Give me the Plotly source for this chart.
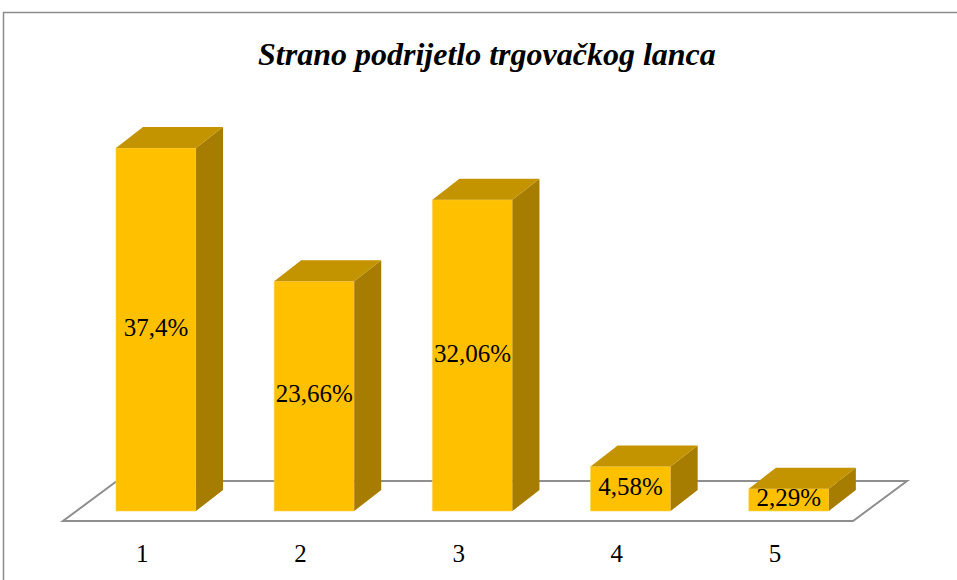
import plotly.graph_objects as go

# ---- data ----
categories = [1, 2, 3, 4, 5]
values = [37.4, 23.66, 32.06, 4.58, 2.29]
value_labels = ["37,4%", "23,66%", "32,06%", "4,58%", "2,29%"]
category_labels = ["1", "2", "3", "4", "5"]
title_text = "Strano podrijetlo trgovačkog lanca"

# ---- geometry / style constants ----
W, H = 957, 580
X_RANGE = [0.0139, 6.063]
Y_RANGE = [-7.109, 52.65]
BAR_W = 0.506
DEPTH_X = 0.1707
DEPTH_Y = 2.164
FRONT = "#FFC000"
TOP = "#C49400"
SIDE = "#A67D00"
FONT = "Liberation Serif, Tinos, 'Times New Roman', Times, serif"

fig = go.Figure()

# front faces
fig.add_trace(go.Bar(
    x=categories, y=values, width=BAR_W,
    marker=dict(color=FRONT, line=dict(width=0.6, color="#FFD24D")),
    hoverinfo="skip", showlegend=False,
))

# side faces and top faces (3D effect derived from the values)
sx, sy, tx, ty = [], [], [], []
for c, v in zip(categories, values):
    r = c + BAR_W / 2
    l = c - BAR_W / 2
    sx += [r, r + DEPTH_X, r + DEPTH_X, r, r, None]
    sy += [0, DEPTH_Y, v + DEPTH_Y, v, 0, None]
    tx += [l, l + DEPTH_X, r + DEPTH_X, r, l, None]
    ty += [v, v + DEPTH_Y, v + DEPTH_Y, v, v, None]

fig.add_trace(go.Scatter(x=sx, y=sy, fill="toself", fillcolor=SIDE, mode="lines",
                         line=dict(width=0, color=SIDE), hoverinfo="skip", showlegend=False))
fig.add_trace(go.Scatter(x=tx, y=ty, fill="toself", fillcolor=TOP, mode="lines",
                         line=dict(width=0, color=TOP), hoverinfo="skip", showlegend=False))

# value labels centred in the front faces
fig.add_trace(go.Scatter(
    x=categories, y=[v / 2 for v in values], mode="text", text=value_labels,
    textfont=dict(family=FONT, size=25, color="#000000"),
    hoverinfo="skip", showlegend=False,
))

# category labels below the floor
fig.add_trace(go.Scatter(
    x=[c - 0.087 for c in categories], y=[-4.65] * len(categories), mode="text",
    text=category_labels, textfont=dict(family=FONT, size=25, color="#000000"),
    hoverinfo="skip", showlegend=False,
))

# floor (parallelogram) drawn below the bars
fl_front_y, fl_back_y = -1.03, 3.09
fl_l, fl_r, fl_shift = 0.412, 5.406, 0.341
floor_path = (f"M {fl_l},{fl_front_y} L {fl_r},{fl_front_y} "
              f"L {fl_r + fl_shift},{fl_back_y} L {fl_l + fl_shift},{fl_back_y} Z")

shapes = [
    dict(type="path", xref="x", yref="y", path=floor_path, layer="below",
         fillcolor="white", line=dict(color="#8f8f8f", width=2)),
    dict(type="rect", xref="paper", yref="paper",
         x0=3.5 / W, x1=1.05, y0=1 - 12.5 / H, y1=-0.05, layer="below",
         fillcolor="rgba(0,0,0,0)", line=dict(color="#8c8c8c", width=1.5)),
]

fig.update_layout(
    width=W, height=H,
    margin=dict(l=0, r=0, t=0, b=0),
    paper_bgcolor="white", plot_bgcolor="white",
    xaxis=dict(range=X_RANGE, visible=False, fixedrange=True),
    yaxis=dict(range=Y_RANGE, visible=False, fixedrange=True),
    shapes=shapes,
    showlegend=False,
    annotations=[dict(
        text=f"<b><i>{title_text}</i></b>", xref="paper", yref="paper",
        x=487 / W, y=1 - 54 / H, xanchor="center", yanchor="middle",
        showarrow=False, font=dict(family=FONT, size=32, color="#000000"),
    )],
)

fig.write_html(
    "out.html",
    config={"displayModeBar": False},
    post_script="document.body.style.margin='0px';document.body.style.overflow='hidden';",
)
